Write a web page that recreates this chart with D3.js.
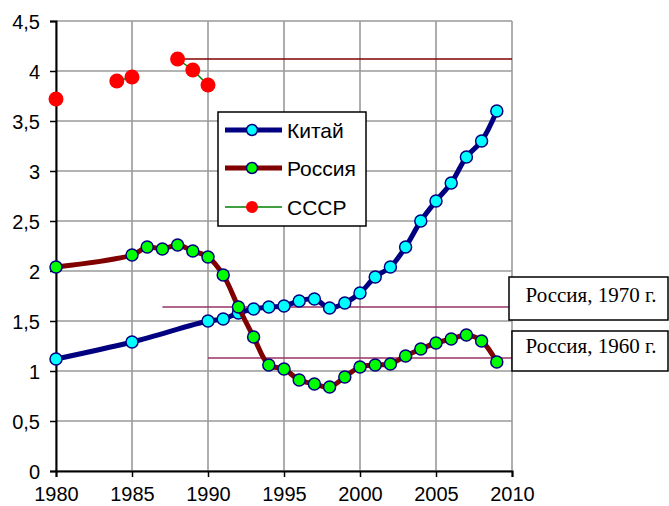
<!DOCTYPE html>
<html>
<head>
<meta charset="utf-8">
<script src="https://cdn.jsdelivr.net/npm/d3@7"></script>
<style>
  body { margin: 0; background: #fff; }
  svg { display: block; }
</style>
</head>
<body>
<script>
// data
var chinaYears = [1980, 1985, 1990, 1991, 1992, 1993, 1994, 1995, 1996, 1997, 1998, 1999,
                  2000, 2001, 2002, 2003, 2004, 2005, 2006, 2007, 2008, 2009];
var chinaVals  = [1.12, 1.29, 1.50, 1.52, 1.58, 1.62, 1.64, 1.65, 1.70, 1.72, 1.63, 1.68,
                  1.78, 1.94, 2.04, 2.24, 2.50, 2.70, 2.88, 3.14, 3.30, 3.60];

var russiaYears = [1980, 1985, 1986, 1987, 1988, 1989, 1990, 1991, 1992, 1993, 1994, 1995,
                   1996, 1997, 1998, 1999, 2000, 2001, 2002, 2003, 2004, 2005, 2006, 2007,
                   2008, 2009];
var russiaVals  = [2.04, 2.16, 2.24, 2.22, 2.26, 2.20, 2.14, 1.96, 1.64, 1.34, 1.06, 1.02,
                   0.91, 0.87, 0.84, 0.94, 1.04, 1.06, 1.07, 1.15, 1.22, 1.28, 1.32, 1.36,
                   1.30, 1.09];

var ussrYears = [1980, 1984, 1985, 1988, 1989, 1990];
var ussrVals  = [3.72, 3.90, 3.94, 4.12, 4.01, 3.86];

// horizontal reference lines: [start year, value]
var refUssr = [1988, 4.12];
var ref1970 = [1987, 1.64];
var ref1960 = [1990, 1.13];

var xTicks = [1980, 1985, 1990, 1995, 2000, 2005, 2010];
var yTicks = [0, 0.5, 1, 1.5, 2, 2.5, 3, 3.5, 4, 4.5];
var seriesNames = ["Китай", "Россия", "СССР"];
var noteLabels = ["Россия, 1970 г.", "Россия, 1960 г."];

var W = 669, H = 506;
var svg = d3.select("body").append("svg").attr("width", W).attr("height", H);

var x = d3.scaleLinear().domain([1980, 2010]).range([56, 512]);
var y = d3.scaleLinear().domain([0, 4.5]).range([471, 21]);

var fmt = function(d) { return String(d).replace(".", ","); };
var sans = "'Liberation Sans', Arial, sans-serif";

// grid
svg.append("g").selectAll("line").data(xTicks).enter().append("line")
    .attr("x1", d => x(d)).attr("x2", d => x(d))
    .attr("y1", y(0)).attr("y2", y(4.5))
    .attr("stroke", "#9a9a9a").attr("stroke-width", 1.6);
svg.append("g").selectAll("line").data(yTicks).enter().append("line")
    .attr("x1", x(1980)).attr("x2", x(2010))
    .attr("y1", d => y(d)).attr("y2", d => y(d))
    .attr("stroke", "#9a9a9a").attr("stroke-width", 1.6);

// axes
var yAxis = svg.append("g").attr("transform", "translate(" + x(1980) + ",0)")
    .call(d3.axisLeft(y).tickValues(yTicks).tickFormat(fmt).tickSize(6).tickPadding(10));
var xAxis = svg.append("g").attr("transform", "translate(0," + y(0) + ")")
    .call(d3.axisBottom(x).tickValues(xTicks).tickFormat(d3.format("d")).tickSize(6).tickPadding(10));
[xAxis, yAxis].forEach(function(a) {
  a.select(".domain").attr("stroke", "#000").attr("stroke-width", 2);
  a.selectAll(".tick line").attr("stroke", "#000").attr("stroke-width", 1.5);
  a.selectAll("text").attr("fill", "#000").style("font-family", sans).style("font-size", "20px");
});
yAxis.selectAll("text").attr("dy", "0.36em");

// reference lines
svg.append("line").attr("x1", x(refUssr[0])).attr("x2", x(2010))
    .attr("y1", y(refUssr[1])).attr("y2", y(refUssr[1]))
    .attr("stroke", "#800000").attr("stroke-width", 1.5);
[ref1970, ref1960].forEach(function(r) {
  svg.append("line").attr("x1", x(r[0])).attr("x2", x(2010))
      .attr("y1", y(r[1])).attr("y2", y(r[1]))
      .attr("stroke", "#993366").attr("stroke-width", 1.5);
});

var line = d3.line().x(d => x(d[0])).y(d => y(d[1])).curve(d3.curveCatmullRom.alpha(0.5));

var china = d3.zip(chinaYears, chinaVals);
var russia = d3.zip(russiaYears, russiaVals);
var ussr = d3.zip(ussrYears, ussrVals);

svg.append("path").datum(china).attr("d", line)
    .attr("fill", "none").attr("stroke", "#000080").attr("stroke-width", 5);
svg.append("g").selectAll("circle").data(china).enter().append("circle")
    .attr("cx", d => x(d[0])).attr("cy", d => y(d[1])).attr("r", 6)
    .attr("fill", "#00ffff").attr("stroke", "#000080").attr("stroke-width", 1.5);

svg.append("path").datum(russia).attr("d", line)
    .attr("fill", "none").attr("stroke", "#800000").attr("stroke-width", 5);
svg.append("g").selectAll("circle").data(russia).enter().append("circle")
    .attr("cx", d => x(d[0])).attr("cy", d => y(d[1])).attr("r", 6)
    .attr("fill", "#00ff00").attr("stroke", "#000080").attr("stroke-width", 1.5);

// USSR: thin green line only between consecutive years
var ussrLine = d3.line().x(d => x(d[0])).y(d => y(d[1]));
for (var i = 1; i < ussr.length; i++) {
  if (ussr[i][0] - ussr[i - 1][0] === 1) {
    svg.append("path").datum([ussr[i - 1], ussr[i]]).attr("d", ussrLine)
        .attr("fill", "none").attr("stroke", "#008000").attr("stroke-width", 1.5);
  }
}
svg.append("g").selectAll("circle").data(ussr).enter().append("circle")
    .attr("cx", d => x(d[0])).attr("cy", d => y(d[1])).attr("r", 7.5)
    .attr("fill", "#ff0000");

// legend
var lg = svg.append("g").attr("transform", "translate(218,112)");
lg.append("rect").attr("width", 148).attr("height", 114)
    .attr("fill", "#fff").attr("stroke", "#000").attr("stroke-width", 1.5);
var legendStyle = [
  {stroke: "#000080", w: 5, fill: "#00ffff", mstroke: "#000080", r: 5.5},
  {stroke: "#800000", w: 5, fill: "#00ff00", mstroke: "#000080", r: 5.5},
  {stroke: "#008000", w: 1.5, fill: "#ff0000", mstroke: "none", r: 6}
];
var legendY = [18, 56, 95];
seriesNames.forEach(function(name, i) {
  var s = legendStyle[i];
  lg.append("line").attr("x1", 7).attr("x2", 64).attr("y1", legendY[i]).attr("y2", legendY[i])
      .attr("stroke", s.stroke).attr("stroke-width", s.w);
  lg.append("circle").attr("cx", 34).attr("cy", legendY[i]).attr("r", s.r)
      .attr("fill", s.fill).attr("stroke", s.mstroke).attr("stroke-width", 1.5);
  lg.append("text").attr("x", 69).attr("y", legendY[i]).attr("dy", "0.36em")
      .style("font-family", sans).style("font-size", "21px")
      .text(name);
});

// note boxes
var boxes = [{x: 509, y: 277, w: 159, h: 43, base: 302}, {x: 512, y: 331, w: 156, h: 40, base: 353}];
noteLabels.forEach(function(t, i) {
  var b = boxes[i];
  svg.append("rect").attr("x", b.x).attr("y", b.y).attr("width", b.w).attr("height", b.h)
      .attr("fill", "#fff").attr("stroke", "#000").attr("stroke-width", 1.5);
  svg.append("text").attr("x", 591).attr("y", b.base)
      .attr("text-anchor", "middle")
      .style("font-family", "'Liberation Serif', 'Times New Roman', serif").style("font-size", "21px")
      .text(t);
});
</script>
</body>
</html>
